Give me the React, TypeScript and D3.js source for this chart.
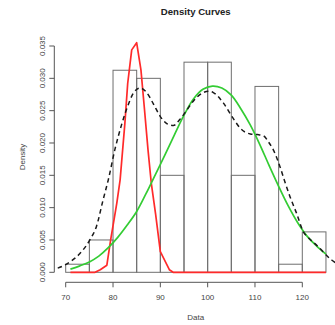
import React from "react";
import * as d3 from "d3";

const breaks = [70, 75, 80, 85, 90, 95, 100, 105, 110, 115, 120, 125];
const densities = [0.00125, 0.005, 0.03125, 0.03, 0.015, 0.0325, 0.0325, 0.015, 0.02875, 0.00125, 0.00625];

const xTicks = [70, 80, 90, 100, 110, 120];
const yTicks = [0, 0.005, 0.01, 0.015, 0.02, 0.025, 0.03, 0.035];
const yTickLabels = ["0.000", "0.005", "0.010", "0.015", "0.020", "0.025", "0.030", "0.035"];

const redX = [71, 76.2, 77.3, 78.7, 79.5, 80.8, 81.5, 82.5, 83.1, 83.95, 85.0, 85.9, 86.6, 87.4, 88.1, 89.0, 90.0, 91.9, 92.7, 125];
const redY = [0, 0, 0.0004, 0.0011, 0.005, 0.0107, 0.0143, 0.023, 0.0292, 0.0344, 0.0355, 0.0313, 0.0256, 0.0189, 0.0137, 0.009, 0.0032, 0.0004, 0, 0];

const greenX = [71, 73, 75, 77, 79, 81, 83, 85, 87, 89, 91, 93, 95, 97, 99, 101, 103, 105, 107, 109, 111, 113, 115, 117, 119, 121, 123, 125];
const greenY = [0.0005, 0.001, 0.0016, 0.0025, 0.0038, 0.0054, 0.0073, 0.0094, 0.0122, 0.0152, 0.0182, 0.0213, 0.0243, 0.0268, 0.0283, 0.0288, 0.0285, 0.0274, 0.0253, 0.0228, 0.0198, 0.0165, 0.0133, 0.0103, 0.0077, 0.0056, 0.0041, 0.0028];

const kdeX = [65, 67.6, 68.1, 70.9, 73.0, 75.1, 76.5, 77.9, 79.0, 80.4, 81.8, 83.0, 84.3, 85.7, 87.0, 88.5, 89.9, 91.35, 92.75, 94.2, 95.6, 97.0, 99.1, 100.3, 101.2, 103.3, 105.4, 107.0, 109.0, 110.5, 111.8, 113.0, 113.9, 115.3, 116.4, 117.4, 118.8, 120.2, 121.5, 123.0, 126.2, 128];
const kdeY = [0.0002, 0.0005, 0.0006, 0.0016, 0.0029, 0.005, 0.0071, 0.0112, 0.0143, 0.019, 0.0228, 0.0255, 0.0277, 0.0285, 0.0279, 0.0261, 0.0242, 0.023, 0.0227, 0.0237, 0.0251, 0.0265, 0.0278, 0.028, 0.0278, 0.0262, 0.0238, 0.0222, 0.0214, 0.0213, 0.0211, 0.02, 0.0189, 0.0163, 0.0138, 0.0117, 0.0091, 0.0063, 0.0052, 0.0042, 0.0019, 0.001];

const W = 335;
const H = 325;

export default function App() {
  const x = d3.scaleLinear().domain([70, 120]).range([65.7, 302.3]);
  const y = d3.scaleLinear().domain([0, 0.035]).range([272.3, 46]);

  const toPts = (xs: number[], ys: number[]) => xs.map((v, i) => [v, ys[i]] as [number, number]);
  const linear = d3.line<[number, number]>().x((d) => x(d[0])).y((d) => y(d[1]));
  const smooth = d3
    .line<[number, number]>()
    .x((d) => x(d[0]))
    .y((d) => y(d[1]))
    .curve(d3.curveMonotoneX);
  const smoothCR = d3
    .line<[number, number]>()
    .x((d) => x(d[0]))
    .y((d) => y(d[1]))
    .curve(d3.curveCatmullRom);

  const font = "'Liberation Sans', Arial, Helvetica, sans-serif";
  const axisY = 282.3;
  const axisX = 54.3;
  const barColor = "#6e6e6e";

  return (
    <svg
      width={W}
      height={H}
      style={{ position: "absolute", left: 0, top: 0, background: "#fff" }}
      fontFamily={font}
    >
      <defs>
        <clipPath id="plotClip">
          <rect x={55} y={30} width={285} height={252} />
        </clipPath>
      </defs>
      <rect x={0} y={0} width={W} height={H} fill="#fff" />

      {densities.map((d, i) => (
        <rect
          key={i}
          x={x(breaks[i])}
          y={y(d)}
          width={x(breaks[i + 1]) - x(breaks[i])}
          height={y(0) - y(d)}
          fill="none"
          stroke={barColor}
          strokeWidth={1}
        />
      ))}

      <g clipPath="url(#plotClip)" fill="none" strokeLinejoin="round">
        <path d={linear(toPts(redX, redY)) || ""} stroke="#ff2a2a" strokeWidth={1.7} />
        <path d={smoothCR(toPts(greenX, greenY)) || ""} stroke="#33cc33" strokeWidth={1.7} />
        <path
          d={smooth(toPts(kdeX, kdeY)) || ""}
          stroke="#1a1a1a"
          strokeWidth={1.5}
          strokeDasharray="4.5,3.5"
        />
      </g>

      <line x1={x(70)} x2={x(120)} y1={axisY} y2={axisY} stroke="#555" strokeWidth={1} />
      {xTicks.map((t) => (
        <g key={t}>
          <line x1={x(t)} x2={x(t)} y1={axisY} y2={axisY + 5} stroke="#555" strokeWidth={1} />
          <text x={x(t)} y={299.6} textAnchor="middle" fontSize={8} fill="#444">
            {t}
          </text>
        </g>
      ))}

      <line x1={axisX} x2={axisX} y1={y(0)} y2={y(0.035)} stroke="#555" strokeWidth={1} />
      {yTicks.map((t, i) => (
        <g key={t}>
          <line x1={axisX - 5} x2={axisX} y1={y(t)} y2={y(t)} stroke="#555" strokeWidth={1} />
          <text
            transform={`translate(41.7,${y(t)}) rotate(-90)`}
            dy="0.35em"
            textAnchor="middle"
            fontSize={8}
            fill="#444"
          >
            {yTickLabels[i]}
          </text>
        </g>
      ))}

      <text x={195.8} y={14.5} textAnchor="middle" fontSize={9.6} fontWeight="bold" fill="#222">
        Density Curves
      </text>
      <text x={195.8} y={320} textAnchor="middle" fontSize={8} fill="#444">
        Data
      </text>
      <text
        transform={`translate(21.7,157) rotate(-90)`}
        dy="0.35em"
        textAnchor="middle"
        fontSize={8}
        fill="#444"
      >
        Density
      </text>
    </svg>
  );
}
